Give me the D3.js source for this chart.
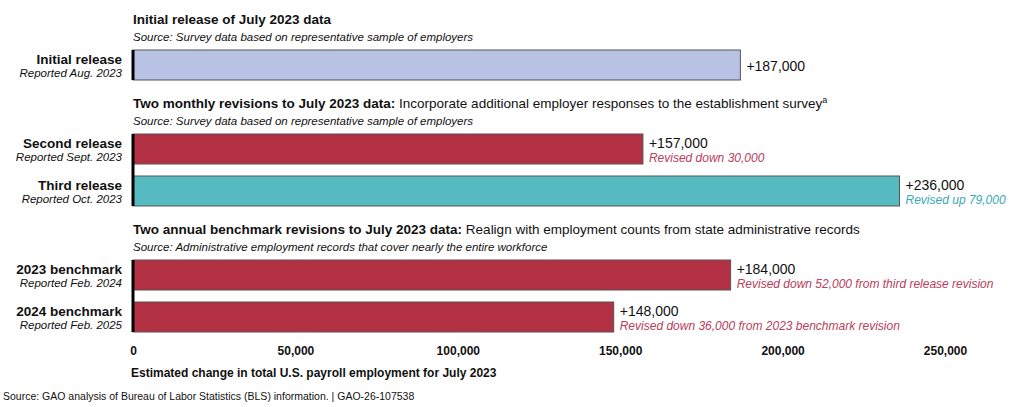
<!DOCTYPE html>
<html><head><meta charset="utf-8">
<script src="https://cdn.jsdelivr.net/npm/d3@7"></script>
<style>body{margin:0;background:#fff}svg{font-family:Arial,"Liberation Sans",sans-serif}</style>
</head><body><div id="chart"></div>
<script>
// rows in drawing order; header rows are group titles
rowIds = ['h1', 'initial', 'h2', 'second', 'third', 'h3', 'bm23', 'bm24'];
barIds = ['initial', 'second', 'third', 'bm23', 'bm24'];
barNames = ['Initial release', 'Second release', 'Third release', '2023 benchmark', '2024 benchmark'];
barDates = ['Reported Aug. 2023', 'Reported Sept. 2023', 'Reported Oct. 2023', 'Reported Feb. 2024', 'Reported Feb. 2025'];
barValues = [187000, 157000, 236000, 184000, 148000];
barKinds = ['base', 'down', 'up', 'down', 'down'];
revisionNotes = ['', 'Revised down 30,000', 'Revised up 79,000',
    'Revised down 52,000 from third release revision', 'Revised down 36,000 from 2023 benchmark revision'];
headerIds = ['h1', 'h2', 'h3'];
headerBold = ['Initial release of July 2023 data', 'Two monthly revisions to July 2023 data:', 'Two annual benchmark revisions to July 2023 data:'];
headerRest = ['', ' Incorporate additional employer responses to the establishment survey', ' Realign with employment counts from state administrative records'];
headerSup = ['', 'a', ''];
headerSources = ['Source: Survey data based on representative sample of employers',
    'Source: Survey data based on representative sample of employers',
    'Source: Administrative employment records that cover nearly the entire workforce'];
groupFirstBar = ['initial', 'second', 'bm23'];
groupLastBar = ['initial', 'third', 'bm24'];
tickValues = [0, 50000, 100000, 150000, 200000, 250000];

width = 1024;
height = 407;
margin = ({top: 8, right: 60, bottom: 63, left: 133});

fillColor = ({base: '#b7c2e4', down: '#b33045', up: '#55bbc0'});
noteColor = ({base: '#000', down: '#b8405a', up: '#3aa9b6'});

const svg = d3.select('#chart').append('svg').attr('width', width).attr('height', height);

const x = d3.scaleLinear().domain([0, 250000]).range([margin.left, 945]);
const y = d3.scaleBand().domain(rowIds)
    .range([margin.top, margin.top + 42 * rowIds.length - 12])
    .paddingInner(12 / 42).paddingOuter(0);

const bars = barIds.map((id, i) => ({id, name: barNames[i], date: barDates[i], value: barValues[i], kind: barKinds[i], note: revisionNotes[i]}));

// group headers
headerIds.forEach((id, i) => {
    const y0 = y(id);
    const t = svg.append('text').attr('x', margin.left).attr('y', y0 + 16).attr('font-size', 13.5).attr('fill', '#111');
    t.append('tspan').attr('font-weight', 'bold').text(headerBold[i]);
    if (headerRest[i]) t.append('tspan').text(headerRest[i]);
    if (headerSup[i]) t.append('tspan').attr('font-size', 9).attr('dy', -5).text(headerSup[i]);
    svg.append('text').attr('x', margin.left).attr('y', y0 + 33).attr('font-size', 11.5)
        .attr('font-style', 'italic').attr('fill', '#111').text(headerSources[i]);
});

// bars
svg.append('g').selectAll('rect').data(bars).join('rect')
    .attr('x', x(0)).attr('y', d => y(d.id))
    .attr('width', d => x(d.value) - x(0)).attr('height', y.bandwidth())
    .attr('fill', d => fillColor[d.kind]).attr('stroke', '#555').attr('stroke-width', 1);

// baseline per group
groupFirstBar.forEach((id, i) => {
    svg.append('line').attr('x1', x(0)).attr('x2', x(0))
        .attr('y1', y(id)).attr('y2', y(groupLastBar[i]) + y.bandwidth())
        .attr('stroke', '#000').attr('stroke-width', 3);
});

// row labels
const lab = svg.append('g').attr('text-anchor', 'end').attr('fill', '#111');
lab.selectAll('.name').data(bars).join('text').attr('class', 'name')
    .attr('x', x(0) - 11).attr('y', d => y(d.id) + 14).attr('font-size', 13.5).attr('font-weight', 'bold')
    .text(d => d.name);
lab.selectAll('.date').data(bars).join('text').attr('class', 'date')
    .attr('x', x(0) - 11).attr('y', d => y(d.id) + 27).attr('font-size', 11.5).attr('font-style', 'italic')
    .text(d => d.date);

// value labels
const vl = svg.append('g');
vl.selectAll('.val').data(bars).join('text').attr('class', 'val')
    .attr('x', d => x(d.value) + 6).attr('y', d => y(d.id) + (d.note ? 14 : 21))
    .attr('font-size', 14).attr('fill', '#111').text(d => '+' + d3.format(',')(d.value));
vl.selectAll('.note').data(bars.filter(d => d.note)).join('text').attr('class', 'note')
    .attr('x', d => x(d.value) + 6).attr('y', d => y(d.id) + 28)
    .attr('font-size', 12).attr('font-style', 'italic').attr('fill', d => noteColor[d.kind]).text(d => d.note);

// x axis (labels only)
const xAxis = svg.append('g').attr('transform', `translate(0,${y('bm24') + y.bandwidth()})`)
    .call(d3.axisBottom(x).tickValues(tickValues).tickFormat(d3.format(',')).tickSize(0).tickPadding(14));
xAxis.select('.domain').remove();
xAxis.selectAll('text').attr('font-size', 12).attr('font-weight', 'bold').attr('fill', '#111')
    .attr('font-family', 'Arial, "Liberation Sans", sans-serif');

svg.append('text').attr('x', margin.left - 2).attr('y', 377).attr('font-size', 12).attr('font-weight', 'bold')
    .attr('fill', '#111').text('Estimated change in total U.S. payroll employment for July 2023');

svg.append('text').attr('x', 3).attr('y', 400).attr('font-size', 10.5).attr('fill', '#111')
    .text('Source: GAO analysis of Bureau of Labor Statistics (BLS) information.  |  GAO-26-107538');
</script></body></html>
